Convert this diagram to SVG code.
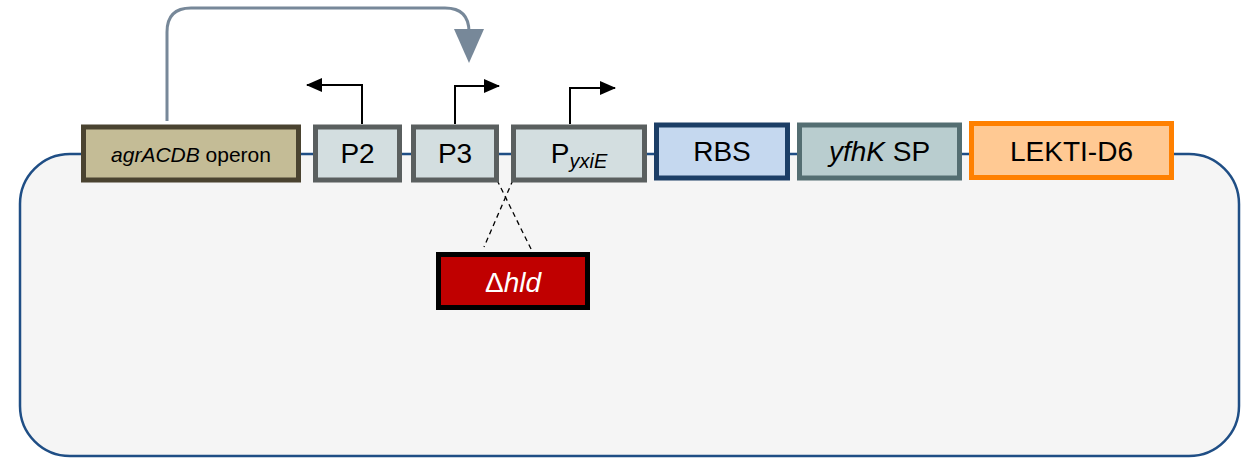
<svg xmlns="http://www.w3.org/2000/svg" width="1253" height="459" viewBox="0 0 1253 459">
  <style>
    text { font-family: "Liberation Sans", Arial, sans-serif; fill: #000; text-anchor: middle; }
    .lbl { font-size: 28px; }
    .box { stroke-width: 5; }
    .prom { fill: #d3dee0; stroke: #5a5f5f; }
    .tss { fill: none; stroke: #000; stroke-width: 2; marker-end: url(#tip); }
    .cut { fill: none; stroke: #000; stroke-width: 1.3; stroke-dasharray: 5 4; }
  </style>
  <defs>
    <marker id="tip" viewBox="0 0 16 14" refX="15" refY="7" markerWidth="8" markerHeight="7" markerUnits="strokeWidth" orient="auto">
      <path d="M0,0 L16,7 L0,14 Z" fill="#000"/>
    </marker>
  </defs>
  <rect width="1253" height="459" fill="#fff"/>

  <!-- plasmid backbone -->
  <rect id="plasmid" x="20" y="154" width="1219" height="302" rx="50" ry="50" fill="#f5f5f5" stroke="#1f4e85" stroke-width="2.5"/>

  <g id="connectors">
    <!-- regulatory feedback from the agr operon onto P3 -->
    <path d="M167,121 V32 Q167,8 191,8 H445 Q469,8 469,32 V34" fill="none" stroke="#778899" stroke-width="3"/>
    <polygon points="454,29 484,29 469,63" fill="#778899"/>
    <!-- transcription start arrows -->
    <path class="tss" d="M362,124 V85 H307"/>
    <path class="tss" d="M455,124 V86 H499"/>
    <path class="tss" d="M570,124 V88 H615"/>
    <!-- hld deletion crossover -->
    <path class="cut" d="M497,180 L532,251"/>
    <path class="cut" d="M513,180 L484,247"/>
  </g>

  <g id="agr">
    <rect class="box" x="83.5" y="127" width="215" height="53" fill="#c4bc96" stroke="#4a4330"/>
    <text x="191" y="162" font-size="21"><tspan font-style="italic">agrACDB</tspan> operon</text>
  </g>
  <g id="p2">
    <rect class="box prom" x="315.5" y="127" width="84" height="53"/>
    <text class="lbl" x="357.5" y="163">P2</text>
  </g>
  <g id="p3">
    <rect class="box prom" x="413.5" y="127" width="83" height="53"/>
    <text class="lbl" x="455" y="163">P3</text>
  </g>
  <g id="pyxiE">
    <rect class="box prom" x="513.5" y="127" width="131" height="53"/>
    <text class="lbl" x="579" y="163">P<tspan font-size="20" font-style="italic" dy="5">yxiE</tspan></text>
  </g>
  <g id="rbs">
    <rect class="box" x="656.5" y="125" width="131" height="53" fill="#c5d8ef" stroke="#1c3e66"/>
    <text class="lbl" x="722" y="161">RBS</text>
  </g>
  <g id="yfhK">
    <rect class="box" x="799.5" y="125" width="160" height="53" fill="#b9cdcf" stroke="#546e72"/>
    <text class="lbl" x="879.5" y="161"><tspan font-style="italic">yfhK</tspan> SP</text>
  </g>
  <g id="lekti">
    <rect class="box" x="971.5" y="123.5" width="200" height="54" fill="#ffc993" stroke="#ff8000"/>
    <text class="lbl" x="1071.5" y="161">LEKTI-D6</text>
  </g>
  <g id="hld">
    <rect class="box" x="438.5" y="254.5" width="149" height="53" fill="#c00000" stroke="#000"/>
    <text x="513" y="292" font-size="28" style="fill:#fff">Δ<tspan font-style="italic">hld</tspan></text>
  </g>
</svg>
